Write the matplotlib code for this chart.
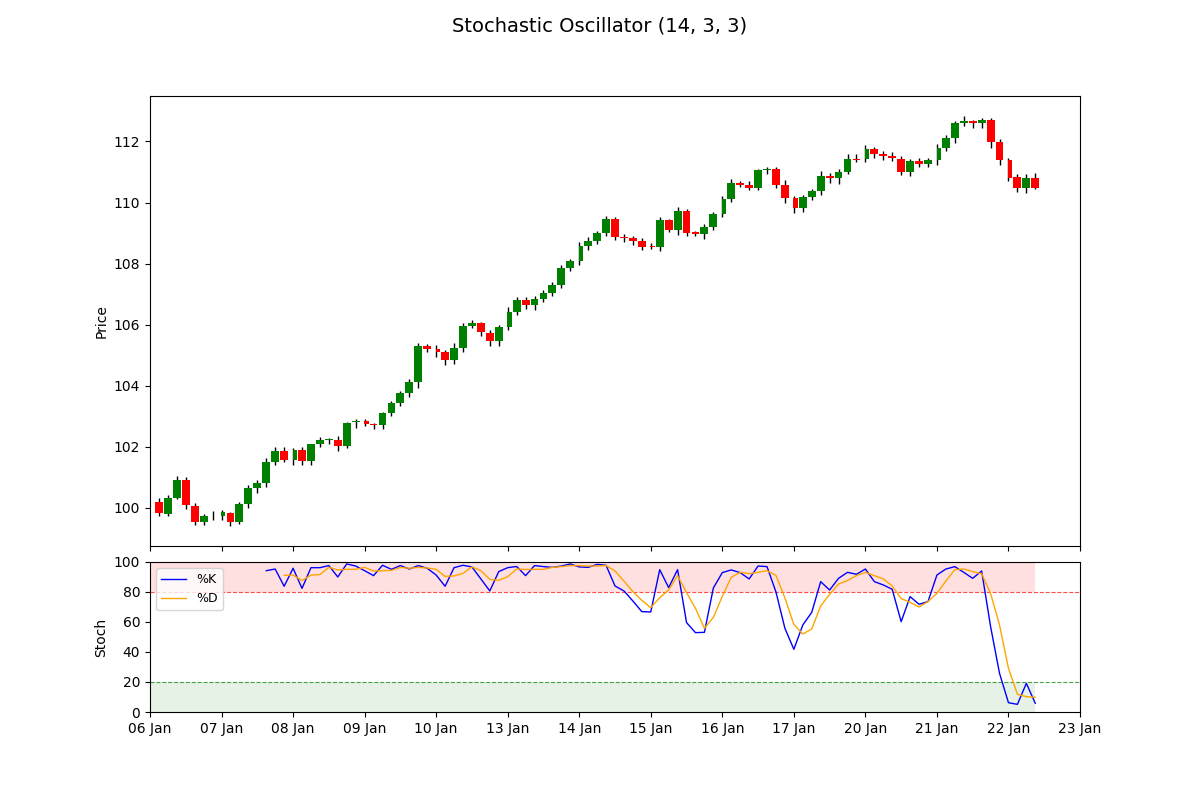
import numpy as np
import matplotlib
matplotlib.use("Agg")
import matplotlib.pyplot as plt

# hourly-ish bars, 8 per trading day (first day starts one bar late)
opens = [100.20, 99.80, 100.33, 100.91, 100.07, 99.55, 99.73, 99.72, 99.84, 99.55,
         100.13, 100.65, 100.82, 101.50, 101.86, 101.58, 101.89, 101.54, 102.09, 102.22,
         102.24, 102.03, 102.80, 102.85, 102.74, 102.72, 103.10, 103.43, 103.75, 104.11,
         105.29, 105.22, 105.09, 104.84, 105.25, 105.97, 106.04, 105.74, 105.46, 105.91,
         106.43, 106.82, 106.63, 106.85, 107.05, 107.31, 107.86, 108.09, 108.58, 108.74,
         109.00, 109.46, 108.87, 108.84, 108.74, 108.57, 108.55, 109.43, 109.10, 109.72,
         109.02, 108.98, 109.20, 109.62, 110.11, 110.64, 110.57, 110.48, 111.06, 111.09,
         110.57, 110.16, 109.83, 110.18, 110.38, 110.86, 110.80, 110.99, 111.44, 111.42,
         111.77, 111.58, 111.52, 111.44, 111.01, 111.35, 111.26, 111.39, 111.78, 112.13,
         112.59, 112.66, 112.59, 112.69, 111.97, 111.38, 110.83, 110.48, 110.80]
highs = [100.34, 100.41, 101.03, 101.00, 100.15, 99.79, 99.89, 99.93, 99.85, 100.20,
         100.75, 100.92, 101.62, 101.98, 101.98, 101.96, 101.98, 102.10, 102.33, 102.30,
         102.36, 102.82, 102.90, 102.90, 102.79, 103.14, 103.51, 103.82, 104.23, 105.41,
         105.37, 105.34, 105.17, 105.41, 106.06, 106.17, 106.10, 105.84, 106.00, 106.57,
         106.91, 106.91, 106.95, 107.15, 107.40, 107.95, 108.16, 108.70, 108.86, 109.07,
         109.55, 109.53, 108.96, 108.91, 108.83, 108.67, 109.53, 109.47, 109.84, 109.78,
         109.07, 109.29, 109.69, 110.23, 110.76, 110.69, 110.72, 111.11, 111.18, 111.16,
         110.73, 110.21, 110.24, 110.46, 111.02, 110.98, 111.11, 111.58, 111.58, 111.87,
         111.83, 111.69, 111.64, 111.54, 111.43, 111.47, 111.47, 111.91, 112.20, 112.66,
         112.82, 112.71, 112.76, 112.78, 112.09, 111.45, 110.93, 110.93, 110.96]
lows = [99.73, 99.75, 100.30, 99.97, 99.45, 99.45, 99.61, 99.62, 99.42, 99.47,
        99.99, 100.49, 100.67, 101.41, 101.49, 101.41, 101.41, 101.41, 101.98, 102.09,
        101.88, 101.95, 102.63, 102.68, 102.60, 102.57, 103.01, 103.34, 103.64, 103.94,
        105.10, 104.95, 104.68, 104.72, 105.10, 105.89, 105.62, 105.30, 105.30, 105.83,
        106.32, 106.51, 106.47, 106.73, 106.93, 107.20, 107.75, 107.97, 108.44, 108.63,
        108.91, 108.77, 108.70, 108.60, 108.46, 108.47, 108.40, 109.02, 108.95, 108.91,
        108.89, 108.82, 109.11, 109.52, 110.03, 110.52, 110.42, 110.41, 110.95, 110.48,
        109.99, 109.67, 109.70, 110.08, 110.26, 110.63, 110.61, 110.92, 111.33, 111.33,
        111.46, 111.41, 111.36, 110.91, 110.88, 111.15, 111.16, 111.22, 111.69, 111.95,
        112.52, 112.45, 112.45, 111.79, 111.23, 110.71, 110.35, 110.32, 110.43]
closes = [99.82, 100.33, 100.91, 100.08, 99.55, 99.74, 99.72, 99.85, 99.55, 100.13,
          100.65, 100.82, 101.50, 101.86, 101.58, 101.89, 101.54, 102.09, 102.22, 102.24,
          102.03, 102.77, 102.85, 102.74, 102.73, 103.10, 103.43, 103.75, 104.11, 105.29,
          105.22, 105.09, 104.84, 105.25, 105.97, 106.04, 105.75, 105.46, 105.91, 106.43,
          106.82, 106.63, 106.85, 107.05, 107.31, 107.86, 108.09, 108.58, 108.74, 109.00,
          109.46, 108.88, 108.85, 108.75, 108.56, 108.56, 109.43, 109.10, 109.72, 109.00,
          108.98, 109.20, 109.62, 110.11, 110.64, 110.57, 110.48, 111.06, 111.09, 110.57,
          110.16, 109.83, 110.18, 110.38, 110.86, 110.80, 110.99, 111.44, 111.41, 111.77,
          111.58, 111.52, 111.45, 111.01, 111.35, 111.26, 111.39, 111.78, 112.13, 112.59,
          112.66, 112.59, 112.69, 111.97, 111.38, 110.81, 110.48, 110.80, 110.48]

# slow %K starts at bar 12, %D at bar 14
k_start = 12
pct_k = [94.2, 95.3, 83.8, 95.8, 82.4, 96.2, 96.2, 97.6, 90.0, 98.7,
         97.3, 94.2, 90.9, 97.8, 95.1, 97.6, 95.3, 97.6, 95.8, 91.3,
         83.8, 96.2, 97.8, 96.7, 88.7, 80.7, 93.6, 96.2, 97.0, 90.9,
         97.6, 96.9, 96.4, 97.3, 98.7, 96.7, 96.4, 98.4, 97.8, 84.0,
         80.7, 74.0, 66.9, 66.7, 94.9, 82.9, 94.9, 59.6, 52.9, 53.1,
         82.7, 92.9, 94.7, 92.9, 88.7, 97.3, 96.9, 80.0, 55.8, 41.8,
         58.0, 66.4, 86.9, 81.3, 89.1, 93.1, 91.8, 95.3, 86.9, 84.7,
         81.8, 60.2, 76.9, 71.8, 73.6, 91.3, 95.3, 96.9, 93.1, 89.1,
         94.0, 57.0, 25.8, 6.2, 5.1, 19.1, 5.8]
d_start = 14
pct_d = [91.1, 91.3, 87.6, 91.3, 91.6, 96.4, 94.7, 95.1, 95.1, 96.4,
         94.0, 94.2, 94.4, 96.4, 95.8, 96.4, 96.0, 95.1, 90.4, 90.7,
         92.4, 96.7, 94.2, 88.4, 87.8, 90.2, 95.3, 95.0, 95.1, 95.1,
         96.4, 96.9, 97.6, 97.6, 97.3, 97.3, 97.6, 94.0, 87.3, 80.2,
         74.4, 69.6, 76.2, 81.3, 90.9, 79.6, 69.1, 55.8, 63.1, 77.1,
         89.8, 93.1, 92.2, 93.1, 94.2, 91.0, 76.0, 58.4, 52.0, 55.3,
         70.7, 78.4, 85.3, 87.6, 90.9, 93.1, 90.9, 88.7, 84.0, 75.6,
         73.1, 70.0, 73.6, 79.1, 87.3, 94.9, 95.3, 93.6, 92.2, 79.1,
         58.0, 29.1, 11.8, 10.2, 9.8]

day_labels = ["06 Jan", "07 Jan", "08 Jan", "09 Jan", "10 Jan", "13 Jan", "14 Jan",
              "15 Jan", "16 Jan", "17 Jan", "20 Jan", "21 Jan", "22 Jan", "23 Jan"]
bars_per_day = 8

o = np.array(opens); h = np.array(highs); l = np.array(lows); c = np.array(closes)
n = len(o)
x = np.arange(n) + 1
up = c >= o
body_lo = np.minimum(o, c)
body_h = np.maximum(np.abs(c - o), 0.03)
colors = np.where(up, "green", "red")
first_of_day = (x % bars_per_day == 0)

fig = plt.figure(figsize=(12, 8), dpi=100)
gs = fig.add_gridspec(2, 1, height_ratios=[3, 1], hspace=0.053)
ax = fig.add_subplot(gs[0])
ax2 = fig.add_subplot(gs[1], sharex=ax)

# candles
ax.vlines(x, l, h, color="black", linewidth=1, zorder=1)
reg = ~first_of_day
ax.bar(x[reg], body_h[reg], bottom=body_lo[reg], width=0.88,
       color=colors[reg], zorder=2)
ax.bar(x[first_of_day] - 0.04, body_h[first_of_day], bottom=body_lo[first_of_day],
       width=0.48, align="edge", color=colors[first_of_day], zorder=2)
lo, hi = l.min(), h.max()
pad = (hi - lo) * 0.05
ax.set_ylim(lo - pad, hi + pad)
ax.set_ylabel("Price")
plt.setp(ax.get_xticklabels(), visible=False)

# stochastic panel
xk = x[k_start:k_start + len(pct_k)]
xd = x[d_start:d_start + len(pct_d)]
ax2.fill_between([0, x[-1]], 80, 100, color="red", alpha=0.12, linewidth=0)
ax2.fill_between([0, x[-1]], 0, 20, color="green", alpha=0.1, linewidth=0)
ax2.axhline(80, color="red", linestyle="--", linewidth=0.8, alpha=0.7)
ax2.axhline(20, color="green", linestyle="--", linewidth=0.8, alpha=0.7)
ax2.plot(xk, pct_k, color="blue", linewidth=1, label="%K")
ax2.plot(xd, pct_d, color="orange", linewidth=1, label="%D")
ax2.set_ylim(0, 100)
ax2.set_ylabel("Stoch")
ax2.legend(loc="upper left", fontsize=9)

ticks = np.arange(len(day_labels)) * bars_per_day
ax2.set_xticks(ticks)
ax2.set_xticklabels(day_labels)
ax2.set_xlim(0, ticks[-1])

fig.suptitle("Stochastic Oscillator (14, 3, 3)", fontsize=14)
fig.savefig("out.png", dpi=100)
